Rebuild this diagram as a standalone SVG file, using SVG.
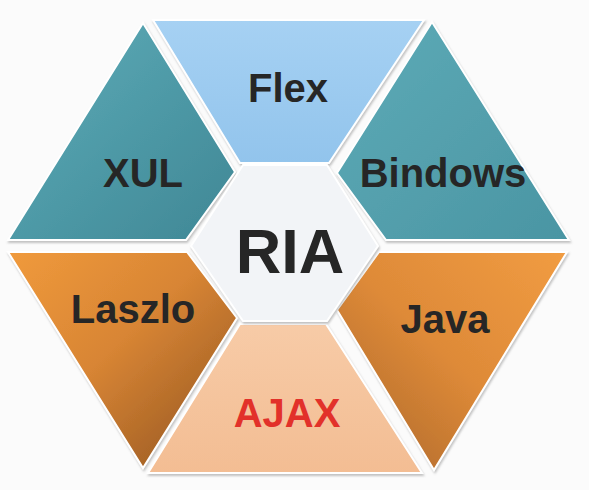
<svg xmlns="http://www.w3.org/2000/svg" width="589" height="490" viewBox="0 0 589 490">
  <defs>
    <linearGradient id="gXul" x1="0" y1="0" x2="1" y2="1">
      <stop offset="0" stop-color="#5eadb9"/>
      <stop offset="1" stop-color="#3f8795"/>
    </linearGradient>
    <linearGradient id="gBin" x1="0" y1="0" x2="1" y2="1">
      <stop offset="0" stop-color="#5eabb7"/>
      <stop offset="1" stop-color="#4a95a3"/>
    </linearGradient>
    <linearGradient id="gFlex" x1="0" y1="0" x2="0" y2="1">
      <stop offset="0" stop-color="#a6d1f3"/>
      <stop offset="1" stop-color="#92c4ec"/>
    </linearGradient>
    <linearGradient id="gLas" x1="0" y1="0" x2="1" y2="1">
      <stop offset="0" stop-color="#f09a3c"/>
      <stop offset="0.45" stop-color="#d88534"/>
      <stop offset="1" stop-color="#8e5220"/>
    </linearGradient>
    <linearGradient id="gJava" x1="1" y1="0" x2="0" y2="1">
      <stop offset="0" stop-color="#f19c42"/>
      <stop offset="0.5" stop-color="#de8a38"/>
      <stop offset="1" stop-color="#a8652a"/>
    </linearGradient>
    <linearGradient id="gAjax" x1="0" y1="0" x2="0" y2="1">
      <stop offset="0" stop-color="#f7cba7"/>
      <stop offset="1" stop-color="#f3bd93"/>
    </linearGradient>
    <filter id="sh" x="-10%" y="-10%" width="120%" height="120%">
      <feDropShadow dx="1" dy="2" stdDeviation="1.2" flood-color="#7a7a7a" flood-opacity="0.45"/>
    </filter>
  </defs>
  <style>
    .seg { stroke: #ffffff; stroke-width: 2; stroke-linejoin: miter; filter: url(#sh); }
    .lbl { font-family: "Liberation Sans", Arial, sans-serif; font-weight: bold; font-size: 40px; fill: #262626; text-anchor: middle; }
  </style>
  <rect x="0" y="0" width="589" height="490" fill="#fbfbfb"/>

  <g id="flex">
    <polygon class="seg" points="153,20 424,20 329,163 240,163" fill="url(#gFlex)"/>
    <text class="lbl" x="288" y="102">Flex</text>
  </g>
  <g id="xul">
    <polygon class="seg" points="143,23 235,172 186,240 8,240" fill="url(#gXul)"/>
    <text class="lbl" x="143" y="187">XUL</text>
  </g>
  <g id="bindows">
    <polygon class="seg" points="432,22 569,240 386,240 337,173" fill="url(#gBin)"/>
    <text class="lbl" x="443" y="187">Bindows</text>
  </g>
  <g id="laszlo">
    <polygon class="seg" points="8,252 187,252 237,318 143,468" fill="url(#gLas)"/>
    <text class="lbl" x="133" y="323">Laszlo</text>
  </g>
  <g id="java">
    <polygon class="seg" points="379,252 567,252 434,470 337,310" fill="url(#gJava)"/>
    <text class="lbl" x="445" y="333">Java</text>
  </g>
  <g id="ajax">
    <polygon class="seg" points="240,324 326,324 422,473 148,473" fill="url(#gAjax)"/>
    <text class="lbl" x="287" y="427" style="fill:#e2312a">AJAX</text>
  </g>
  <g id="ria">
    <polygon class="seg" points="243,165 327,165 378,246 327,321 243,321 191,246" fill="#f2f4f7"/>
    <text class="lbl" x="290" y="273" style="font-size:63px">RIA</text>
  </g>
  <g id="connectors"/>
</svg>
